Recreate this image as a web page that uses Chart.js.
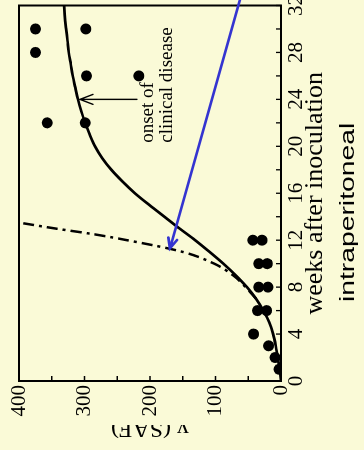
<!DOCTYPE html>
<html>
<head>
<meta charset="utf-8">
<script src="https://cdn.jsdelivr.net/npm/chart.js@4"></script>
<style>
    html, body { margin: 0; padding: 0; background: #fafad7; overflow: hidden; width: 364px; height: 450px; }
    /* chart is drawn upright (450 x 364) and turned a quarter to the left */
    #wrap {
        position: absolute; left: 0; top: 0; width: 450px; height: 364px;
        transform-origin: 0 0; transform: translate(0, 450px) rotate(-90deg);
    }
</style>
</head>
<body>
<div id="wrap"><canvas id="safChart" width="450" height="364"></canvas></div>
<script>
// observed animals (weeks after inoculation, SAF)
const obsWeeks = [1, 2, 3, 4, 6, 6, 8, 8, 10, 10, 12, 12, 22, 22, 26, 26, 28, 30, 30];
const obsSaf   = [3, 9, 19, 42, 22, 36, 20, 34, 21, 34, 29, 43, 299, 357, 217, 297, 375, 298, 375];

// fitted curve (solid)
const fitWeeks = [0, 1, 2, 3, 4, 5, 6, 7, 8, 9, 10, 11, 12, 13, 14, 15, 16,
                  17, 18, 19, 20, 21, 22, 23, 24, 25, 26, 27, 28, 29, 30, 31, 32];
const fitSaf   = [0, 2, 5, 8, 12, 18, 27, 38, 52, 69, 88, 109, 131, 155, 178, 201, 223,
                  242, 259, 273, 284, 292, 299, 305, 310, 314, 318, 321, 324, 326, 328, 330, 331];

// unchecked growth (dash-dot)
const expWeeks = [7, 8, 9, 10, 11, 12, 12.5, 13, 13.5];
const expSaf   = [38, 54, 73, 102, 150, 235, 285, 345, 400];

// axes
const weekTicks = [0, 4, 8, 12, 16, 20, 24, 28, 32];
const weekMinor = [2, 6, 10, 14, 18, 22, 26, 30];
const safTicks  = [0, 100, 200, 300, 400];
const safMinor  = [50, 150, 250, 350];

// annotations, in data units
const onsetArrow = { week: 24, from: 220, to: 307 };
const onsetText  = { week: 20.3, lines: ['onset of', 'clinical disease'], saf: [195, 166] };
const blueArrow  = { from: { x: 33.6, y: 57 }, to: { x: 11.3, y: 169.5 } };

const toXY = (xs, ys) => xs.map((x, i) => ({ x: x, y: ys[i] }));

function arrowLine(ctx, x1, y1, x2, y2, len, half, color, width) {
    const a = Math.atan2(y2 - y1, x2 - x1);
    ctx.save();
    ctx.strokeStyle = color;
    ctx.lineWidth = width;
    ctx.lineCap = 'round';
    ctx.beginPath();
    ctx.moveTo(x1, y1);
    ctx.lineTo(x2, y2);
    ctx.moveTo(x2 - len * Math.cos(a) + half * Math.sin(a), y2 - len * Math.sin(a) - half * Math.cos(a));
    ctx.lineTo(x2, y2);
    ctx.lineTo(x2 - len * Math.cos(a) - half * Math.sin(a), y2 - len * Math.sin(a) + half * Math.cos(a));
    ctx.stroke();
    ctx.restore();
}

const framePlugin = {
    id: 'frame',
    afterDraw(chart) {
        const { ctx, chartArea: ca, scales: { x, y } } = chart;
        ctx.save();

        // box + inward ticks
        ctx.strokeStyle = '#000';
        ctx.lineWidth = 2;
        ctx.strokeRect(ca.left, ca.top, ca.right - ca.left, ca.bottom - ca.top);
        ctx.lineWidth = 1.3;
        ctx.beginPath();
        weekTicks.concat(weekMinor).forEach(v => {
            const px = x.getPixelForValue(v);
            ctx.moveTo(px, ca.bottom);
            ctx.lineTo(px, ca.bottom - 5);
        });
        safTicks.concat(safMinor).forEach(v => {
            const py = y.getPixelForValue(v);
            ctx.moveTo(ca.left, py);
            ctx.lineTo(ca.left + 5, py);
        });
        ctx.stroke();

        ctx.fillStyle = '#000';

        // x title
        ctx.font = '26px "Liberation Serif"';
        ctx.textAlign = 'center';
        ctx.textBaseline = 'alphabetic';
        ctx.fillText('weeks after inoculation', (ca.left + ca.right) / 2, 322);

        // y title (cut off at the left edge like the source)
        ctx.save();
        ctx.beginPath();
        ctx.rect(0, 0, 25, chart.height);
        ctx.clip();
        ctx.translate(28, (ca.top + ca.bottom) / 2);
        ctx.rotate(-Math.PI / 2);
        ctx.font = '24px "Liberation Serif"';
        ctx.fillText('y (SAF)', 0, 0);
        ctx.restore();

        // route label
        ctx.save();
        ctx.translate(148, 354);
        ctx.scale(1.45, 1);
        ctx.font = '19.5px "Liberation Sans"';
        ctx.textAlign = 'left';
        ctx.fillText('intraperitoneal', 0, 0);
        ctx.restore();

        // onset of clinical disease
        ctx.font = '19px "Liberation Serif"';
        ctx.textAlign = 'left';
        onsetText.lines.forEach((t, i) => {
            ctx.fillText(t, x.getPixelForValue(onsetText.week), y.getPixelForValue(onsetText.saf[i]));
        });
        const ox = x.getPixelForValue(onsetArrow.week);
        arrowLine(ctx, ox, y.getPixelForValue(onsetArrow.from), ox, y.getPixelForValue(onsetArrow.to), 13, 5, '#000', 1.4);

        // blue arrow
        arrowLine(ctx,
            x.getPixelForValue(blueArrow.from.x), y.getPixelForValue(blueArrow.from.y),
            x.getPixelForValue(blueArrow.to.x), y.getPixelForValue(blueArrow.to.y),
            10, 4.5, '#3434d0', 2.6);

        ctx.restore();
    }
};

const tickFont = { family: 'Liberation Serif', size: 21 };

new Chart(document.getElementById('safChart'), {
    type: 'scatter',
    data: {
        datasets: [
            {
                data: toXY(fitWeeks, fitSaf),
                showLine: true,
                borderColor: '#000',
                borderWidth: 2.7,
                pointRadius: 0,
                cubicInterpolationMode: 'monotone'
            },
            {
                data: toXY(expWeeks, expSaf),
                showLine: true,
                borderColor: '#000',
                borderWidth: 2.5,
                borderDash: [11, 5, 3, 5],
                pointRadius: 0,
                cubicInterpolationMode: 'monotone'
            },
            {
                data: toXY(obsWeeks, obsSaf),
                showLine: false,
                pointRadius: 5.5,
                pointBackgroundColor: '#000',
                pointBorderWidth: 0
            }
        ]
    },
    options: {
        responsive: false,
        animation: false,
        layout: { padding: { left: 0, right: 5, top: 19, bottom: 0 } },
        plugins: {
            legend: { display: false },
            tooltip: { enabled: false }
        },
        scales: {
            x: {
                type: 'linear',
                min: 0,
                max: 32,
                // fixed box, and let the end labels run off the edge
                afterFit: s => { s.height = 83; s.paddingLeft = 0; s.paddingRight = 0; },
                afterBuildTicks: s => { s.ticks = weekTicks.map(v => ({ value: v })); },
                grid: { display: false, drawTicks: false },
                border: { display: false },
                ticks: { font: tickFont, color: '#000', padding: 3, maxRotation: 0, autoSkip: false }
            },
            y: {
                type: 'linear',
                min: 0,
                max: 400,
                afterFit: s => { s.width = 69; s.paddingTop = 0; s.paddingBottom = 0; },
                afterBuildTicks: s => { s.ticks = safTicks.map(v => ({ value: v })); },
                grid: { display: false, drawTicks: false },
                border: { display: false },
                ticks: { font: tickFont, color: '#000', padding: 4, autoSkip: false }
            }
        }
    },
    plugins: [framePlugin]
});
</script>
</body>
</html>
